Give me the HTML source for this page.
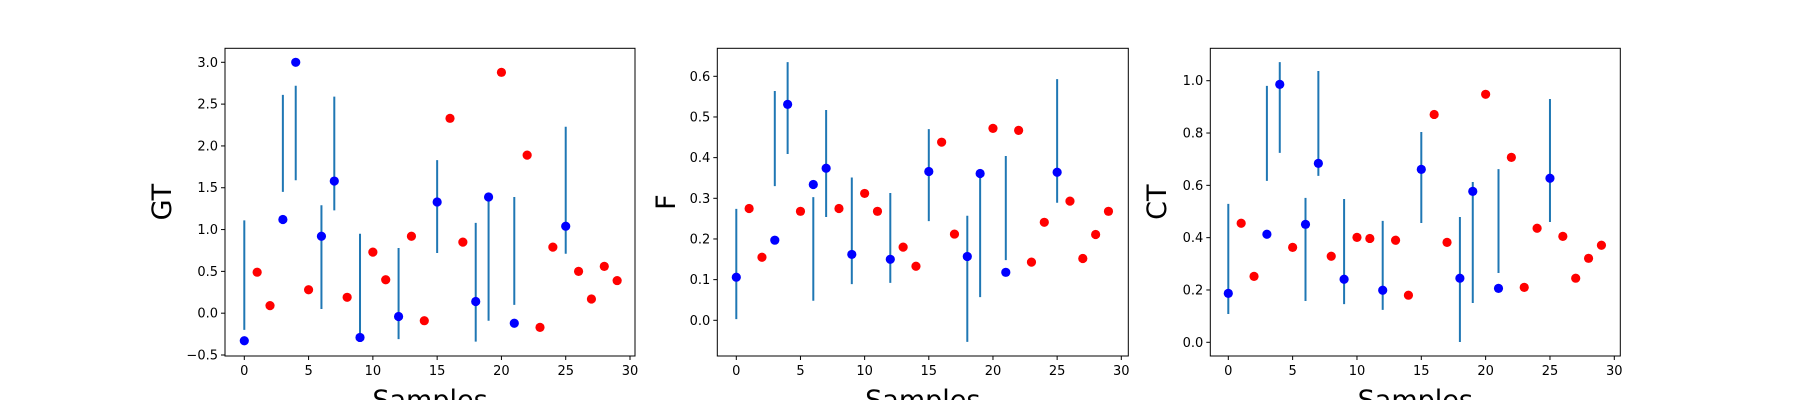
<!DOCTYPE html>
<html><head><meta charset="utf-8"><style>
body{margin:0;background:#fff;}
svg{display:block;font-family:"DejaVu Sans","Liberation Sans",sans-serif;}
</style></head><body>
<svg id="s" width="1800" height="400" viewBox="0 0 1800 400"></svg>
<script>
const samples = [0,1,2,3,4,5,6,7,8,9,10,11,12,13,14,15,16,17,18,19,20,21,22,23,24,25,26,27,28,29];
const blueIdx = [0,3,4,6,7,9,12,15,18,19,21,25];
const gtVals = [-0.33,0.49,0.09,1.12,3.0,0.28,0.92,1.58,0.19,-0.29,0.73,0.40,-0.04,0.92,-0.09,1.33,2.33,0.85,0.14,1.39,2.88,-0.12,1.89,-0.17,0.79,1.04,0.50,0.17,0.56,0.39];
const gtLo = [-0.20,1.45,1.59,0.05,1.23,-0.30,-0.31,0.72,-0.34,-0.09,0.10,0.71];
const gtHi = [1.11,2.61,2.72,1.29,2.59,0.95,0.78,1.83,1.08,1.35,1.39,2.23];
const fVals = [0.106,0.275,0.155,0.197,0.531,0.268,0.334,0.374,0.275,0.162,0.312,0.268,0.150,0.180,0.133,0.366,0.438,0.212,0.157,0.361,0.472,0.118,0.467,0.143,0.241,0.364,0.293,0.152,0.211,0.268];
const fLo = [0.003,0.330,0.409,0.048,0.254,0.089,0.092,0.244,-0.053,0.057,0.148,0.289];
const fHi = [0.274,0.564,0.635,0.303,0.517,0.351,0.313,0.470,0.257,0.355,0.404,0.593];
const ctVals = [0.187,0.455,0.252,0.413,0.986,0.363,0.451,0.684,0.329,0.241,0.401,0.397,0.199,0.390,0.180,0.661,0.871,0.382,0.245,0.577,0.948,0.206,0.707,0.210,0.436,0.627,0.405,0.245,0.321,0.371];
const ctLo = [0.108,0.617,0.724,0.158,0.636,0.146,0.124,0.456,0.001,0.150,0.265,0.460];
const ctHi = [0.529,0.980,1.071,0.552,1.037,0.548,0.464,0.804,0.479,0.613,0.662,0.930];
const xTicks = [0,5,10,15,20,25,30];
const gtTicks = [-0.5,0.0,0.5,1.0,1.5,2.0,2.5,3.0];
const fTicks = [0.0,0.1,0.2,0.3,0.4,0.5,0.6];
const ctTicks = [0.0,0.2,0.4,0.6,0.8,1.0];

const NS='http://www.w3.org/2000/svg';
const svg=document.getElementById('s');
function mk(tag,attrs,parent){const e=document.createElementNS(NS,tag);for(const k in attrs)e.setAttribute(k,attrs[k]);(parent||svg).appendChild(e);return e;}

const panels=[
 {name:'gt',label:'GT',vals:gtVals,lo:gtLo,hi:gtHi,ticks:gtTicks,dec:1,L:225,R:635,x0:244.3,x30:630,yA:3.0,pA:62.3,yB:-0.5,pB:355,labX:162},
 {name:'f',label:'F',vals:fVals,lo:fLo,hi:fHi,ticks:fTicks,dec:1,L:717.3,R:1128.3,x0:736.3,x30:1121.3,yA:0.6,pA:76.3,yB:0.0,pB:320.3,labX:666},
 {name:'ct',label:'CT',vals:ctVals,lo:ctLo,hi:ctHi,ticks:ctTicks,dec:1,L:1210.3,R:1620.3,x0:1228.3,x30:1614.3,yA:1.0,pA:80.7,yB:0.0,pB:342.3,labX:1157}
];
const T=48.3,B=356;
panels.forEach(p=>{
  const g=mk('g',{});
  
  
  const xs=v=>p.x0+(v-0)*(p.x30-p.x0)/30;
  const ys=v=>p.pB+(v-p.yB)*(p.pA-p.pB)/(p.yA-p.yB);
  // error bars
  blueIdx.forEach((i,k)=>{
    const l=mk('line',{x1:xs(samples[i]),x2:xs(samples[i]),y1:ys(p.lo[k]),y2:ys(p.hi[k]),stroke:'#1f77b4','stroke-width':2},g);
    
    
  });
  // points
  samples.forEach((s,i)=>{
    const blue=blueIdx.includes(i);
    const c=mk('circle',{cx:xs(s),cy:ys(p.vals[i]),r:4.6,fill:blue?'#0000ff':'#ff0000'},g);
    
    
  });
  // frame
  const fr=mk('rect',{x:p.L,y:T,width:p.R-p.L,height:B-T,fill:'none',stroke:'#000','stroke-width':1},g);
  
  
  xTicks.forEach(t=>{
    const x=xs(t);
    mk('line',{x1:x,x2:x,y1:B,y2:B+4,stroke:'#000','stroke-width':1},g);
    const tx=mk('text',{x:x,y:B+19,'font-size':13,'text-anchor':'middle',fill:'#000'},g);
    tx.textContent=t;
    
    
  });
  p.ticks.forEach(t=>{
    const y=ys(t);
    mk('line',{x1:p.L-4,x2:p.L,y1:y,y2:y,stroke:'#000','stroke-width':1},g);
    const tx=mk('text',{x:p.L-7,y:y+4.5,'font-size':13,'text-anchor':'end',fill:'#000'},g);
    tx.textContent=t.toFixed(p.dec).replace('-','\u2212');
    
    
  });
  const yl=mk('text',{x:0,y:0,'font-size':27,'text-anchor':'middle',fill:'#000',transform:`translate(${p.labX+9},${(T+B)/2}) rotate(-90)`},g);
  yl.textContent=p.label;
  
  
  const xl=mk('text',{x:(p.L+p.R)/2,y:409,'font-size':27,'text-anchor':'middle',fill:'#000'},g);
  xl.textContent='Samples';
  
  
});
</script>
</body></html>
